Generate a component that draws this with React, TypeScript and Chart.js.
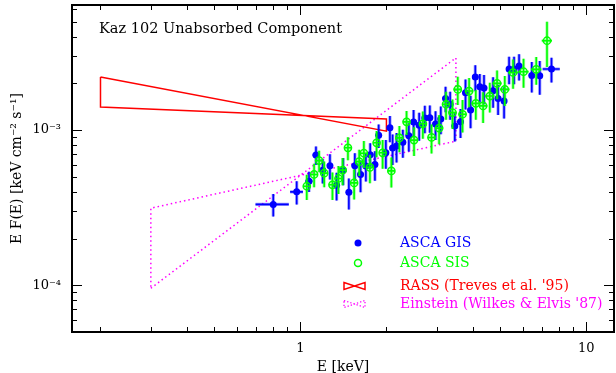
import React, { useEffect, useRef } from "react";
import { Chart, registerables } from "chart.js";

Chart.register(...registerables);

// ---------- data ----------
const chartTitle = "Kaz 102 Unabsorbed Component";
const xTitle = "E [keV]";
const yTitle = "E F(E) [keV cm\u207B\u00B2 s\u207B\u00B9]";

const xMajorTicks = [1, 10];
const xMajorLabels = ["1", "10"];
const yMajorTicks = [1e-4, 1e-3];
const yMajorLabels = ["10\u207B\u2074", "10\u207B\u00B3"];

const xRange = [0.159, 12.5];
const yRange = [5e-5, 6.4e-3];

// ASCA GIS
const gisE = [0.804, 0.971, 1.072, 1.134, 1.197, 1.269, 1.339, 1.412, 1.478, 1.551, 1.624, 1.695, 1.755, 1.823, 1.879, 1.991, 2.057, 2.102, 2.17, 2.283, 2.396, 2.489, 2.603, 2.725, 2.837, 2.97, 3.099, 3.22, 3.341, 3.469, 3.632, 3.781, 3.939, 4.091, 4.242, 4.388, 4.721, 4.915, 5.158, 5.37, 5.59, 5.82, 6.447, 6.874, 7.556];
const gisEErr = [0.107, 0.05, 0.03, 0.03, 0.03, 0.03, 0.03, 0.035, 0.035, 0.04, 0.04, 0.04, 0.045, 0.045, 0.045, 0.05, 0.05, 0.05, 0.05, 0.055, 0.06, 0.06, 0.065, 0.065, 0.07, 0.07, 0.075, 0.08, 0.08, 0.085, 0.09, 0.09, 0.095, 0.1, 0.1, 0.11, 0.11, 0.12, 0.12, 0.13, 0.13, 0.14, 0.15, 0.16, 0.52];
const gisFlux = [3.32e-4, 4.0e-4, 4.69e-4, 6.9e-4, 5.52e-4, 5.9e-4, 4.42e-4, 5.52e-4, 3.98e-4, 5.9e-4, 5.18e-4, 5.86e-4, 6.93e-4, 6.01e-4, 9.26e-4, 7.14e-4, 1.035e-3, 7.66e-4, 7.89e-4, 8.34e-4, 9.19e-4, 1.126e-3, 1.074e-3, 1.195e-3, 1.2e-3, 1.093e-3, 1.181e-3, 1.601e-3, 1.467e-3, 1.064e-3, 1.13e-3, 1.74e-3, 1.346e-3, 2.198e-3, 1.903e-3, 1.866e-3, 1.792e-3, 1.601e-3, 1.538e-3, 2.474e-3, 2.474e-3, 2.587e-3, 2.246e-3, 2.24e-3, 2.474e-3];
const gisFluxErr = [0.55e-4, 0.68e-4, 0.7e-4, 0.95e-4, 1.0e-4, 1.1e-4, 0.9e-4, 1.1e-4, 0.9e-4, 1.2e-4, 1.2e-4, 1.2e-4, 1.3e-4, 1.3e-4, 1.6e-4, 1.5e-4, 2.0e-4, 1.7e-4, 1.7e-4, 1.7e-4, 1.9e-4, 2.2e-4, 2.2e-4, 2.4e-4, 2.4e-4, 2.3e-4, 2.4e-4, 3.0e-4, 3.0e-4, 2.2e-4, 2.4e-4, 3.8e-4, 3.2e-4, 4.2e-4, 4.0e-4, 4.0e-4, 4.0e-4, 3.5e-4, 3.5e-4, 5.0e-4, 5.0e-4, 5.0e-4, 5.0e-4, 5.5e-4, 4.5e-4];

// ASCA SIS
const sisE = [1.053, 1.117, 1.163, 1.212, 1.295, 1.359, 1.406, 1.467, 1.542, 1.606, 1.668, 1.751, 1.848, 1.94, 2.081, 2.22, 2.352, 2.498, 2.682, 2.876, 3.057, 3.232, 3.405, 3.553, 3.692, 3.892, 4.108, 4.356, 4.598, 4.875, 5.188, 5.545, 6.034, 6.683, 7.288];
const sisEErr = [0.03, 0.03, 0.03, 0.035, 0.035, 0.035, 0.04, 0.04, 0.04, 0.045, 0.045, 0.05, 0.05, 0.055, 0.06, 0.065, 0.07, 0.075, 0.08, 0.09, 0.1, 0.1, 0.11, 0.12, 0.12, 0.13, 0.14, 0.15, 0.17, 0.18, 0.2, 0.22, 0.25, 0.28, 0.3];
const sisFlux = [4.35e-4, 5.18e-4, 6.36e-4, 5.28e-4, 4.44e-4, 4.88e-4, 5.52e-4, 7.69e-4, 4.57e-4, 6.26e-4, 7.1e-4, 5.75e-4, 8.28e-4, 7.14e-4, 5.46e-4, 8.91e-4, 1.13e-3, 8.62e-4, 1.098e-3, 8.97e-4, 1.03e-3, 1.467e-3, 1.297e-3, 1.83e-3, 1.265e-3, 1.785e-3, 1.487e-3, 1.432e-3, 1.657e-3, 2.001e-3, 1.83e-3, 2.35e-3, 2.378e-3, 2.463e-3, 3.768e-3];
const sisFluxErr = [0.8e-4, 0.9e-4, 1.0e-4, 1.0e-4, 0.9e-4, 1.0e-4, 1.1e-4, 1.3e-4, 1.0e-4, 1.2e-4, 1.4e-4, 1.2e-4, 1.6e-4, 1.5e-4, 1.2e-4, 1.7e-4, 2.0e-4, 1.8e-4, 2.2e-4, 1.9e-4, 2.2e-4, 3.0e-4, 2.8e-4, 3.8e-4, 3.0e-4, 3.8e-4, 3.2e-4, 3.2e-4, 3.6e-4, 4.2e-4, 4.0e-4, 5.0e-4, 5.0e-4, 5.0e-4, 1.22e-3];

// RASS bow-tie (Treves et al. '95)
const rassE = [0.2, 2.0, 2.0, 0.2, 0.2];
const rassFlux = [2.2e-3, 0.985e-3, 1.18e-3, 1.41e-3, 2.2e-3];

// Einstein bow-tie (Wilkes & Elvis '87)
const einE = [0.3, 3.5, 3.5, 0.3, 0.3];
const einFlux = [9.57e-5, 2.92e-3, 8.49e-4, 3.14e-4, 9.57e-5];

const legendLabels = ["ASCA GIS", "ASCA SIS", "RASS (Treves et al. '95)", "Einstein (Wilkes & Elvis '87)"];

// ---------- styles ----------
const BLUE = "#0000ff";
const GREEN = "#00ff00";
const RED = "#ff0000";
const MAGENTA = "#ff00ff";
const FONT = "'DejaVu Serif', serif";

const isMajor = (v: number, majors: number[]) =>
  majors.findIndex((m) => Math.abs(Math.log10(v) - Math.log10(m)) < 1e-6);

const errorBarsPlugin = {
  id: "errorBars",
  beforeDatasetDraw(chart: any, args: any) {
    const ds = chart.data.datasets[args.index];
    if (!ds.errX) return;
    const xs = chart.scales.x;
    const ys = chart.scales.y;
    const ctx = chart.ctx;
    const ca = chart.chartArea;
    ctx.save();
    ctx.beginPath();
    ctx.rect(ca.left, ca.top, ca.right - ca.left, ca.bottom - ca.top);
    ctx.clip();
    const path = () => {
      ctx.beginPath();
      ds.data.forEach((p: any, i: number) => {
        const px = xs.getPixelForValue(p.x);
        const py = ys.getPixelForValue(p.y);
        const xl = xs.getPixelForValue(p.x - ds.errX[i]);
        const xr = xs.getPixelForValue(p.x + ds.errX[i]);
        const yt = ys.getPixelForValue(p.y + ds.errY[i]);
        const yb = ys.getPixelForValue(p.y - ds.errY[i]);
        ctx.moveTo(xl, py);
        ctx.lineTo(xr, py);
        ctx.moveTo(px, yt);
        ctx.lineTo(px, yb);
      });
    };
    path();
    ctx.strokeStyle = ds.errHalo;
    ctx.lineWidth = 3.2;
    ctx.stroke();
    path();
    ctx.strokeStyle = ds.errColor;
    ctx.lineWidth = 1.6;
    ctx.stroke();
    ctx.restore();
  },
};

const framePlugin = {
  id: "frameTicks",
  afterDatasetsDraw(chart: any) {
    const ctx = chart.ctx;
    const { left, right, top, bottom } = chart.chartArea;
    const xs = chart.scales.x;
    const ys = chart.scales.y;
    ctx.save();
    ctx.strokeStyle = "#000";
    ctx.lineWidth = 1;
    ctx.beginPath();
    const decades = (s: any, fn: (v: number, major: boolean) => void) => {
      const e0 = Math.floor(Math.log10(s.min));
      const e1 = Math.ceil(Math.log10(s.max));
      for (let e = e0; e <= e1; e++) {
        for (let m = 1; m <= 9; m++) {
          const v = m * Math.pow(10, e);
          if (v > s.min * 1.0001 && v < s.max * 0.9999) fn(v, m === 1);
        }
      }
    };
    decades(xs, (v, major) => {
      const px = Math.round(xs.getPixelForValue(v)) + 0.5;
      const len = major ? 10 : 5;
      ctx.moveTo(px, bottom);
      ctx.lineTo(px, bottom - len);
      ctx.moveTo(px, top);
      ctx.lineTo(px, top + len);
    });
    decades(ys, (v, major) => {
      const py = Math.round(ys.getPixelForValue(v)) + 0.5;
      const len = major ? 10 : 5;
      ctx.moveTo(left, py);
      ctx.lineTo(left + len, py);
      ctx.moveTo(right, py);
      ctx.lineTo(right - len, py);
    });
    ctx.stroke();
    ctx.lineWidth = 2;
    ctx.strokeRect(left, top, right - left, bottom - top);

    // title inside the plot
    ctx.fillStyle = "#000";
    ctx.font = `14.5px ${FONT}`;
    ctx.textBaseline = "middle";
    ctx.textAlign = "left";
    ctx.fillText(chartTitle, left + 27, top + 24);

    // legend
    const symX = right - 256;
    const txtX = right - 214;
    const rows = [bottom - 89, bottom - 69, bottom - 46, bottom - 28];
    const colors = [BLUE, GREEN, RED, MAGENTA];
    ctx.font = `14px ${FONT}`;
    rows.forEach((ry, i) => {
      ctx.fillStyle = colors[i];
      ctx.strokeStyle = colors[i];
      if (i === 0) {
        ctx.beginPath();
        ctx.arc(symX, ry, 3.5, 0, Math.PI * 2);
        ctx.fill();
      } else if (i === 1) {
        ctx.beginPath();
        ctx.lineWidth = 1.5;
        ctx.arc(symX, ry, 3.5, 0, Math.PI * 2);
        ctx.stroke();
      } else {
        ctx.beginPath();
        ctx.lineWidth = i === 2 ? 1.5 : 1.3;
        ctx.setLineDash(i === 2 ? [] : [1.3, 2]);
        const x0 = symX - 14, x1 = symX + 7, h = 3.5;
        ctx.moveTo(x0, ry - h);
        ctx.lineTo(x1, ry + h);
        ctx.lineTo(x1, ry - h);
        ctx.lineTo(x0, ry + h);
        ctx.closePath();
        ctx.stroke();
        ctx.setLineDash([]);
      }
      ctx.fillText(legendLabels[i], txtX, ry);
    });
    ctx.restore();
  },
};

export default function App() {
  const ref = useRef<HTMLCanvasElement | null>(null);

  useEffect(() => {
    if (!ref.current) return;
    const gis = gisE.map((x, i) => ({ x, y: gisFlux[i] }));
    const sis = sisE.map((x, i) => ({ x, y: sisFlux[i] }));
    const rass = rassE.map((x, i) => ({ x, y: rassFlux[i] }));
    const ein = einE.map((x, i) => ({ x, y: einFlux[i] }));

    const chart = new Chart(ref.current, {
      type: "scatter",
      data: {
        datasets: [
          {
            label: legendLabels[1],
            data: sis,
            pointRadius: 3.6,
            pointBackgroundColor: "rgba(0,0,0,0)",
            pointBorderColor: GREEN,
            pointBorderWidth: 1.5,
            errX: sisEErr,
            errY: sisFluxErr,
            errColor: GREEN,
            errHalo: "rgba(0,255,0,0.35)",
          } as any,
          {
            label: legendLabels[0],
            data: gis,
            pointRadius: 3.5,
            pointBackgroundColor: BLUE,
            pointBorderColor: BLUE,
            pointBorderWidth: 0,
            errX: gisEErr,
            errY: gisFluxErr,
            errColor: BLUE,
            errHalo: "rgba(0,0,255,0.4)",
          } as any,
          {
            type: "line",
            label: legendLabels[2],
            data: rass,
            showLine: true,
            borderColor: RED,
            borderWidth: 1.5,
            pointRadius: 0,
            fill: false,
            tension: 0,
          } as any,
          {
            type: "line",
            label: legendLabels[3],
            data: ein,
            showLine: true,
            borderColor: MAGENTA,
            borderWidth: 1.5,
            borderDash: [1.5, 3],
            pointRadius: 0,
            fill: false,
            tension: 0,
          } as any,
        ],
      },
      options: {
        animation: false,
        responsive: false,
        devicePixelRatio: 1,
        events: [],
        layout: { autoPadding: false, padding: { top: 5, right: 2, left: 0, bottom: 0 } },
        plugins: {
          legend: { display: false },
          tooltip: { enabled: false },
        },
        scales: {
          x: {
            type: "logarithmic",
            position: "bottom",
            min: xRange[0],
            max: xRange[1],
            grid: { display: false, drawTicks: false },
            border: { display: false },
            ticks: {
              autoSkip: false,
              maxRotation: 0,
              padding: 9,
              color: "#000",
              font: { family: FONT, size: 13 },
              callback: (v: any) => {
                const k = isMajor(Number(v), xMajorTicks);
                return k >= 0 ? xMajorLabels[k] : null;
              },
            },
            title: {
              display: true,
              text: xTitle,
              color: "#000",
              font: { family: FONT, size: 14, lineHeight: 1 },
              padding: { top: 0, bottom: -1 },
            },
            afterFit: (s: any) => {
              s.height = 41;
              s.paddingLeft = 0;
              s.paddingRight = 0;
            },
          },
          y: {
            type: "logarithmic",
            position: "left",
            min: yRange[0],
            max: yRange[1],
            grid: { display: false, drawTicks: false },
            border: { display: false },
            ticks: {
              autoSkip: false,
              padding: 11,
              color: "#000",
              font: { family: FONT, size: 13 },
              callback: (v: any) => {
                const k = isMajor(Number(v), yMajorTicks);
                return k >= 0 ? yMajorLabels[k] : null;
              },
            },
            title: {
              display: true,
              text: yTitle,
              color: "#000",
              font: { family: FONT, size: 14, lineHeight: 1 },
              padding: { top: 10, bottom: 0 },
            },
            afterFit: (s: any) => {
              s.width = 72;
              s.paddingTop = 0;
              s.paddingBottom = 0;
            },
          },
        },
      } as any,
      plugins: [errorBarsPlugin, framePlugin],
    });
    return () => chart.destroy();
  }, []);

  return (
    <>
      <style>{"html,body{margin:0;padding:0;background:#fff}"}</style>
      <canvas ref={ref} width={616} height={373} style={{ display: "block" }} />
    </>
  );
}
